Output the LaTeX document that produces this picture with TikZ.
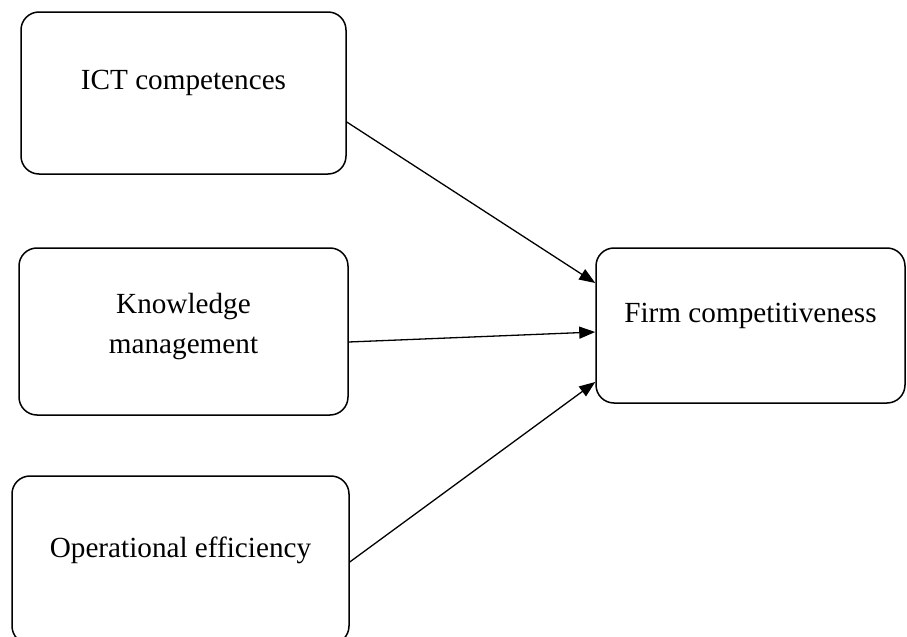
\documentclass[tikz,border=0pt]{standalone}
\usepackage{fontspec}
\setmainfont{Liberation Serif}
\usetikzlibrary{arrows.meta,calc}

\begin{document}
\begin{tikzpicture}[x=0.5pt,y=-0.5pt, font=\fontsize{14.6}{20}\selectfont,
  block/.style={draw, line width=0.75pt, rounded corners=9pt, inner sep=0pt},
  link/.style={line width=0.65pt, -{Triangle[length=8pt,width=6pt]}}]
        \useasboundingbox (0,0) rectangle (907,637);
        \clip (0,0) rectangle (907,637);
        \node[block, minimum width=162.5pt, minimum height=81pt,
          label={[yshift=5.25pt]center:ICT competences}] (ict) at (183.5,93) {};
        \node[block, minimum width=164.5pt, minimum height=83.5pt,
          label={[align=center, yshift=2.5pt]center:Knowledge\\management}] (know) at (183.5,331.5) {};
        \node[block, minimum width=168.5pt, minimum height=84pt,
          label={[yshift=5pt]center:Operational efficiency}] (oper) at (180.5,560) {};
        \node[block, minimum width=154.5pt, minimum height=77.5pt,
          label={[yshift=5pt]center:Firm competitiveness}] (firm) at (750.5,325.5) {};
        \draw[link] ($(ict.east)+(0,29)$) -- ($(firm.west)+(0,-42.5)$);
        \draw[link] ($(know.east)+(0,10.5)$) -- ($(firm.west)+(0,6.5)$);
        \draw[link] ($(oper.east)+(0,2)$) -- ($(firm.west)+(0,56.5)$);
\end{tikzpicture}
\end{document}
